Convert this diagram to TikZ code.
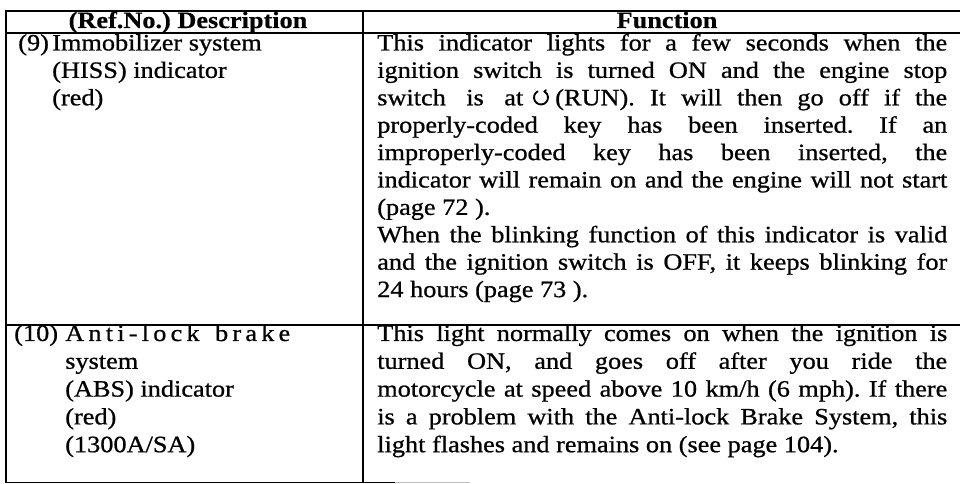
\documentclass[tikz,border=0pt]{standalone}
\usepackage{fontspec}
\setmainfont{Liberation Serif}[FakeStretch=1.12, UprightFeatures={FakeBold=0.8}, BoldFeatures={FakeBold=0.5}]
\newcommand\jl[1]{\makebox[427.5pt][s]{#1}}
\newcommand\gp{\hspace{0pt plus 1fil}}
\newcommand\wgp{\hspace{0.3em plus 2fil}}
\begin{document}
\frenchspacing
\begin{tikzpicture}[x=0.75pt,y=-0.75pt,
  rule/.style={line width=1.1pt,line cap=rect},
  txt/.style={anchor=base west,inner sep=0pt,font=\fontsize{17.6pt}{21pt}\selectfont\frenchspacing},
  hd/.style={anchor=base,inner sep=0pt,font=\fontsize{17.6pt}{21pt}\selectfont\bfseries}]
\useasboundingbox (0,0) rectangle (960,484);
% table rules
\draw[rule] (6,11) -- (960,11);
\draw[rule] (6,33) -- (960,33);
\draw[rule] (6,325) -- (960,325);
\draw[rule] (6,11) -- (6,482.5) -- (395,482.5);
\draw[line width=0.9pt,black!25] (395,482.5) -- (470,482.5);
\draw[rule] (363,11) -- (363,482.5);
% header
\node[hd] (h1) at (188,28) {(Ref.No.) Description};
\node[hd] (h2) at (667,28) {Function};
% row 9 left
\node[txt] (n9) at (18,50.5) {(9)};
\node[txt] (d9a) at (52,50.5) {Immobilizer system};
\node[txt] (d9b) at (52,77.9) {(HISS) indicator};
\node[txt] (d9c) at (52,105.3) {(red)};
% row 9 right
\node[txt] (f9a) at (377,50.5) {\jl{This indicator lights for a few seconds when the}};
\node[txt] (f9b) at (377,77.9) {\jl{ignition switch is turned ON and the engine stop}};
\node[txt] (f9c1) at (377,105.3) {\makebox[109.5pt][s]{switch is at}};
\coordinate (run) at (541,97.5);
\draw[line width=1.4pt,line cap=round] (run) ++(-118:7) arc[start angle=-118,end angle=-420,radius=7] -- ++(-40:2);
\node[txt] (f9c2) at (555,105.3) {\makebox[294pt][s]{(RUN). It will then go off if the}};
\node[txt] (f9d) at (377,132.7) {\jl{properly-coded key has been inserted. If an}};
\node[txt] (f9e) at (377,160.1) {\jl{improperly-coded key has been inserted, the}};
\node[txt] (f9f) at (377,187.5) {\jl{indicator will remain on and the engine will not start}};
\node[txt] (f9g) at (377,214.9) {(page 72 ).};
\node[txt] (f9h) at (377,242.3) {\jl{When the blinking function of this indicator is valid}};
\node[txt] (f9i) at (377,269.7) {\jl{and the ignition switch is OFF, it keeps blinking for}};
\node[txt] (f9j) at (377,297.1) {24 hours (page 73 ).};
% row 10 left
\node[txt] (n10) at (14,341) {(10)};
\node[txt] (d10a) at (65,341) {\makebox[168.75pt][s]{A\gp n\gp t\gp i\gp -\gp l\gp o\gp c\gp k\wgp b\gp r\gp a\gp k\gp e}};
\node[txt] (d10b) at (65,368.8) {system};
\node[txt] (d10c) at (65,396.6) {(ABS) indicator};
\node[txt] (d10d) at (65,424.4) {(red)};
\node[txt] (d10e) at (65,452.2) {(1300A/SA)};
% row 10 right
\node[txt] (f10a) at (377,341) {\jl{This light normally comes on when the ignition is}};
\node[txt] (f10b) at (377,368.8) {\jl{turned ON, and goes off after you ride the}};
\node[txt] (f10c) at (377,396.6) {\jl{motorcycle at speed above 10 km/h (6 mph). If there}};
\node[txt] (f10d) at (377,424.4) {\jl{is a problem with the Anti-lock Brake System, this}};
\node[txt] (f10e) at (377,452.2) {light flashes and remains on (see page 104).};
\end{tikzpicture}
\end{document}
